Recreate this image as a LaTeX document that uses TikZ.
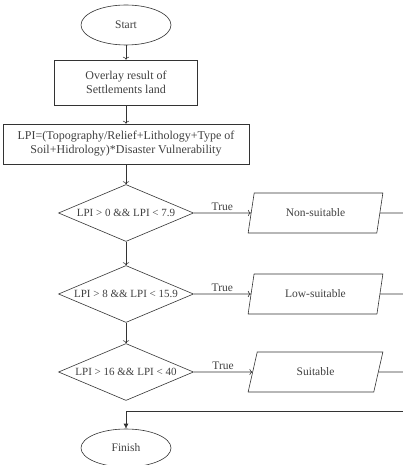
\documentclass[tikz,border=0pt]{standalone}
\usepackage{fontspec}
\setmainfont{Liberation Serif}
\usetikzlibrary{shapes.geometric,arrows.meta}
\begin{document}
\begin{tikzpicture}
		[x=1pt,y=-1pt,
		every node/.style={font=\fontsize{11.5}{13.5}\selectfont,text=black!75},
		terminal/.style={ellipse,draw=black!80,line width=0.6pt,
minimum width=90pt,minimum height=40pt,inner sep=0pt},
		process/.style={rectangle,draw=black!80,line width=0.6pt,align=center,inner sep=0pt,
font=\fontsize{12}{14}\selectfont},
		decision/.style={diamond,draw=black!80,line width=0.6pt,
minimum width=135pt,minimum height=57pt,inner sep=0pt,font=\fontsize{11}{13}\selectfont},
		output/.style={trapezium,trapezium left angle=70,trapezium right angle=110,
trapezium stretches=true,draw=black!80,line width=0.6pt,
minimum width=135pt,minimum height=40pt,inner sep=0pt},
		flow/.style={draw=black!80,line width=0.6pt,-{Latex[length=5pt,width=5pt]}},
		plain/.style={draw=black!80,line width=0.6pt,-}]
		\useasboundingbox (0,0) rectangle (403,465);
		\node at (126, 25) (start) [terminal] {Start};
		\node at (126, 82.5) (overlay) [process,minimum width=143pt,minimum height=45pt]
{Overlay result of\\Settlements land}
			edge [flow,<-] (start);
		\node at (126, 144) (lpi) [process,minimum width=246pt,minimum height=40pt]
{LPI=(Topography/Relief+Lithology+Type of\\Soil+Hidrology)*Disaster Vulnerability}
			edge [flow,<-] (overlay);
		% decisions
		\node at (126, 213) (d1) [decision] {\makebox[0pt]{LPI > 0 \&\& LPI < 7.9}}
			edge [flow,<-] (lpi);
		\node at (126, 294) (d2) [decision] {\makebox[0pt]{LPI > 8 \&\& LPI < 15.9}}
			edge [flow,<-] (d1);
		\node at (126, 372) (d3) [decision] {\makebox[0pt]{LPI > 16 \&\& LPI < 40}}
			edge [flow,<-] (d2);
		% outputs
		\node at (315.5, 213) (o1) [output] {Non-suitable}
			edge [flow,<-] node[auto,swap,inner sep=2pt] {True} (d1);
		\node at (315.5, 294) (o2) [output] {Low-suitable}
			edge [flow,<-] node[auto,swap,inner sep=2pt] {True} (d2);
		\node at (315.5, 372) (o3) [output] {Suitable}
			edge [flow,<-] node[auto,swap,inner sep=2pt] {True} (d3);
		\coordinate (e1) at (403, 213);
		\coordinate (e2) at (403, 294);
		\coordinate (e3) at (403, 372);
		\coordinate (eb) at (403, 411);
		\draw [plain] (o1) -- (e1);
		\draw [plain] (o2) -- (e2);
		\draw [plain] (o3) -- (e3);
		\node at (126, 448) (finish) [terminal,minimum height=38pt] {Finish};
		\draw [flow] (eb) -| (finish);
	\end{tikzpicture}
\end{document}
